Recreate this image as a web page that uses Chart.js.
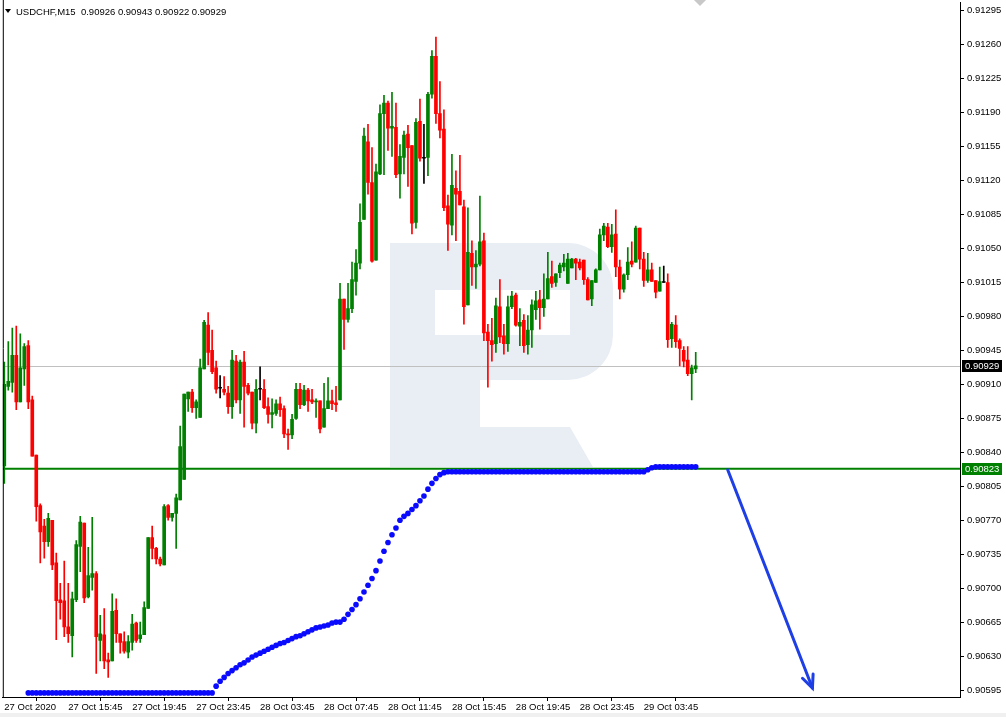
<!DOCTYPE html>
<html><head><meta charset="utf-8">
<script src="https://cdn.jsdelivr.net/npm/chart.js@4/dist/chart.umd.min.js"></script>
<style>html,body{margin:0;padding:0;background:#fff;overflow:hidden}canvas{display:block}</style>
</head><body>
<canvas id="c" width="1006" height="717"></canvas>
<script>
// ---------------- DATA ----------------
const symbol = 'USDCHF,M15';
const open = [.90826,.90908,.90912,.90940,.90892,.90926,.90950,.90894,.90837,.90785,
.90764,.90748,.90770,.90726,.90688,.90687,.90660,.90651,.90688,.90743,
.90767,.90691,.90711,.90715,.90646,.90652,.90626,.90625,.90677,.90653,
.90645,.90634,.90644,.90664,.90648,.90652,.90679,.90752,.90741,.90730,
.90724,.90785,.90773,.90777,.90791,.90812,.90895,.90902,.90886,.90876,
.90926,.90971,.90945,.90927,.90906,.90905,.90901,.90887,.90934,.90894,
.90933,.90909,.90902,.90870,.90905,.90905,.90887,.90879,.90880,.90890,
.90885,.90859,.90858,.90875,.90905,.90889,.90904,.90894,.90892,.90893,
.90866,.90885,.90893,.90891,.90894,.90998,.90977,.90988,.91016,.91035,
.91080,.91160,.91118,.91038,.91127,.91189,.91200,.91174,.91175,.91127,
.91144,.91168,.91156,.91077,.91181,.91143,.91144,.91209,.91248,.91189,
.91173,.91094,.91074,.91112,.91109,.91093,.90992,.91045,.91031,.91034,
.91058,.90964,.90955,.90952,.90990,.90960,.90952,.90990,.91002,.90970,
.90976,.90951,.90966,.90987,.90997,.90989,.90998,.91021,.91015,.91025,
.91031,.91014,.91030,.91039,.91036,.91038,.91018,.90998,.91015,.91028,
.91064,.91072,.91052,.91065,.91031,.91008,.91023,.91037,.91036,.91071,
.91039,.91017,.91028,.91017,.91006,.91015,.91015,.90957,.90971,.90955,
.90945,.90935,.90921,.90926];
const high = [.90933,.90954,.90968,.90970,.90962,.90952,.90955,.90898,.90837,.90787,
.90771,.90777,.90770,.90736,.90705,.90728,.90705,.90696,.90749,.90774,
.90767,.90742,.90773,.90717,.90672,.90679,.90633,.90694,.90689,.90653,
.90655,.90651,.90673,.90665,.90665,.90686,.90752,.90764,.90742,.90732,
.90786,.90786,.90777,.90797,.90867,.90900,.90902,.90905,.90894,.90936,
.90976,.90984,.90966,.90934,.90919,.90918,.90908,.90945,.90940,.90935,
.90944,.90911,.90902,.90915,.90928,.90915,.90896,.90895,.90894,.90897,
.90888,.90864,.90879,.90911,.90911,.90909,.90906,.90905,.90895,.90893,
.90911,.90917,.90904,.90908,.91014,.90998,.91014,.91036,.91049,.91096,
.91174,.91178,.91154,.91137,.91198,.91208,.91202,.91211,.91200,.91157,
.91171,.91177,.91156,.91184,.91204,.91178,.91211,.91254,.91268,.91222,
.91193,.91105,.91147,.91130,.91146,.91100,.91092,.91058,.91048,.91104,
.91066,.90972,.90978,.90999,.91018,.90972,.91001,.91006,.91004,.90988,
.90982,.90981,.90997,.91006,.91007,.91024,.91046,.91037,.91024,.91035,
.91044,.91045,.91040,.91040,.91039,.91038,.91020,.91017,.91029,.91070,
.91076,.91076,.91075,.91090,.91038,.91024,.91051,.91057,.91073,.91071,
.91046,.91045,.91035,.91017,.91031,.91032,.91024,.90974,.90981,.90957,
.90949,.90949,.90930,.90943];
const low = [.90808,.90904,.90902,.90884,.90892,.90909,.90885,.90836,.90769,.90726,
.90731,.90743,.90719,.90647,.90668,.90650,.90644,.90629,.90686,.90717,
.90685,.90690,.90698,.90612,.90625,.90617,.90608,.90625,.90644,.90633,
.90633,.90628,.90636,.90644,.90644,.90652,.90679,.90730,.90725,.90723,
.90724,.90770,.90769,.90741,.90791,.90812,.90882,.90881,.90875,.90876,
.90926,.90930,.90921,.90901,.90896,.90899,.90880,.90875,.90891,.90880,
.90866,.90899,.90864,.90860,.90894,.90885,.90870,.90865,.90878,.90877,
.90855,.90843,.90854,.90874,.90885,.90888,.90882,.90890,.90876,.90860,
.90866,.90885,.90884,.90882,.90894,.90946,.90974,.90984,.91002,.91029,
.91080,.91106,.91036,.91038,.91126,.91126,.91151,.91145,.91123,.91102,
.91127,.91114,.91065,.91071,.91140,.91117,.91125,.91205,.91179,.91164,
.91089,.91048,.91064,.91058,.91095,.90972,.90992,.91012,.91009,.91032,
.90955,.90907,.90934,.90943,.90953,.90941,.90944,.90988,.90970,.90950,
.90943,.90941,.90948,.90977,.90967,.90980,.90998,.91010,.91011,.91020,
.91027,.91014,.91030,.91018,.91028,.91013,.90997,.90991,.91015,.91028,
.91058,.91051,.91046,.91021,.90998,.91005,.91018,.91031,.91036,.91029,
.91011,.91015,.91016,.90999,.91006,.91015,.90948,.90948,.90948,.90929,
.90928,.90919,.90894,.90922];
const close = [.90910,.90913,.90940,.90892,.90927,.90949,.90892,.90836,.90784,.90758,
.90748,.90772,.90724,.90687,.90685,.90660,.90653,.90689,.90745,.90768,
.90690,.90713,.90715,.90650,.90653,.90625,.90624,.90676,.90653,.90644,
.90635,.90645,.90663,.90646,.90652,.90680,.90752,.90741,.90730,.90725,
.90784,.90773,.90777,.90793,.90846,.90900,.90902,.90886,.90892,.90927,
.90974,.90943,.90923,.90905,.90906,.90902,.90887,.90935,.90894,.90933,
.90908,.90901,.90870,.90905,.90905,.90886,.90879,.90881,.90890,.90884,
.90859,.90858,.90874,.90905,.90889,.90904,.90893,.90892,.90893,.90864,
.90885,.90893,.90890,.90889,.90998,.90977,.90988,.91018,.91035,.91077,
.91166,.91118,.91037,.91129,.91189,.91200,.91174,.91176,.91126,.91145,
.91167,.91154,.91076,.91180,.91143,.91143,.91209,.91248,.91189,.91172,
.91092,.91075,.91115,.91106,.91095,.90990,.91046,.91031,.91034,.91057,
.90963,.90955,.90951,.90991,.90959,.90952,.90990,.91001,.90971,.90974,
.90950,.90966,.90992,.90996,.90989,.90998,.91019,.91014,.91024,.91033,
.91035,.91039,.91039,.91035,.91030,.91018,.90997,.91017,.91028,.91064,
.91073,.91052,.91064,.91031,.91008,.91023,.91036,.91034,.91071,.91039,
.91017,.91028,.91016,.91005,.91016,.91015,.90956,.90972,.90954,.90947,
.90934,.90921,.90927,.90929];
// trailing indicator (blue dots), one value per bar, null = not drawn
const indicator = [null,null,null,null,null,null,
.90592,.90592,.90592,.90592,.90592,.90592,.90592,.90592,.90592,.90592,
.90592,.90592,.90592,.90592,.90592,.90592,.90592,.90592,.90592,.90592,
.90592,.90592,.90592,.90592,.90592,.90592,.90592,.90592,.90592,.90592,
.90592,.90592,.90592,.90592,.90592,.90592,.90592,.90592,.90592,.90592,
.90592,.90592,.90592,.90592,.90592,.90592,.90592,
.90599,.90604,.90608,.90612,.90615,.90618,.90621,.90623,.90626,.90629,
.90631,.90633,.90635,.90637,.90639,.90641,.90643,.90644,.90646,.90648,
.90650,.90651,.90653,.90655,.90657,.90659,.90660,.90661,.90662,.90664,
.90665,.90665,.90668,.90673,.90678,.90683,.90689,.90696,.90703,.90710,
.90718,.90728,.90738,.90747,.90755,.90762,.90770,.90774,.90777,.90781,
.90785,.90790,.90795,.90802,.90808,.90813,.90817,.90819,
.90820,.90820,.90820,.90820,.90820,.90820,.90820,.90820,.90820,.90820,
.90820,.90820,.90820,.90820,.90820,.90820,.90820,.90820,.90820,.90820,
.90820,.90820,.90820,.90820,.90820,.90820,.90820,.90820,.90820,.90820,
.90820,.90820,.90820,.90820,.90820,.90820,.90820,.90820,.90820,.90820,
.90820,.90820,.90820,.90820,.90820,.90820,.90820,.90820,.90820,.90820,
.90822,.90824,
.90825,.90825,.90825,.90825,.90825,.90825,.90825,.90825,.90825,.90825,.90825];
const timeTickIndex = [0,16,32,48,64,80,96,112,128,144,160];
const timeLabels = ['27 Oct 2020','27 Oct 15:45','27 Oct 19:45','27 Oct 23:45','28 Oct 03:45',
  '28 Oct 07:45','28 Oct 11:45','28 Oct 15:45','28 Oct 19:45','28 Oct 23:45','29 Oct 03:45'];
const priceTicks = [0.91295,0.91260,0.91225,0.91190,0.91155,0.91120,0.91085,0.91050,0.91015,0.90980,
  0.90945,0.90910,0.90875,0.90840,0.90805,0.90770,0.90735,0.90700,0.90665,0.90630,0.90595];
const bidPrice = 0.90929;
const levelPrice = 0.90823;
const arrowFrom = {x: 181, y: 0.90822};
const arrowTo = {x: 202.2, y: 0.90597};

// ---------------- STYLE ----------------
const BULL = '#008000', BEAR = '#ff0000', DOJI = '#000000';
const FONT = {family: "'Liberation Sans', Arial, sans-serif", size: 9.5};
const xMin = -0.375, xMax = 239.125;
const yMin = 0.905878, yMax = 0.9130324;

const n = open.length;
const colors = open.map((o, i) => close[i] > o ? BULL : (close[i] < o ? BEAR : DOJI));
const bodyData = open.map((o, i) => ({x: i, y: [o, close[i]]}));
const wickData = open.map((o, i) => ({x: i, y: [low[i], high[i]]}));
const dotData = indicator.map((v, i) => v == null ? null : {x: i, y: v}).filter(Boolean);

const overlay = {
  id: 'overlay',
  beforeDatasetsDraw(chart) {
    const {ctx, chartArea: a, scales: {x, y}} = chart;
    ctx.save();
    ctx.beginPath(); ctx.rect(a.left, a.top, a.right - a.left, a.bottom - a.top); ctx.clip();
    // watermark "R"
    const L = 390, T = 243;
    ctx.fillStyle = '#e9eef5';
    ctx.beginPath();
    ctx.moveTo(L, T); ctx.lineTo(568, T);
    ctx.arcTo(613, T, 613, T + 45, 45);
    ctx.lineTo(613, 335);
    ctx.arcTo(613, 380, 568, 380, 45);
    ctx.lineTo(480, 380); ctx.lineTo(480, 467); ctx.lineTo(L, 467); ctx.closePath();
    ctx.fill();
    ctx.beginPath();
    ctx.moveTo(480, 427); ctx.lineTo(570, 427); ctx.lineTo(593, 467); ctx.lineTo(480, 467); ctx.closePath();
    ctx.fill();
    ctx.fillStyle = '#ffffff';
    ctx.fillRect(435, 290, 135, 45);
    // bid line
    const by = Math.round(y.getPixelForValue(bidPrice)) + 0.5;
    ctx.strokeStyle = '#c0c0c0'; ctx.lineWidth = 1;
    ctx.beginPath(); ctx.moveTo(a.left, by); ctx.lineTo(a.right, by); ctx.stroke();
    // level line
    const ly = y.getPixelForValue(levelPrice);
    ctx.strokeStyle = '#008000'; ctx.lineWidth = 2;
    ctx.beginPath(); ctx.moveTo(a.left, ly); ctx.lineTo(a.right, ly); ctx.stroke();
    ctx.restore();
  },
  afterDatasetsDraw(chart) {
    const {ctx, chartArea: a, scales: {x, y}} = chart;
    ctx.save();
    // arrow
    const x1 = x.getPixelForValue(arrowFrom.x), y1 = y.getPixelForValue(arrowFrom.y);
    const x2 = x.getPixelForValue(arrowTo.x), y2 = y.getPixelForValue(arrowTo.y);
    ctx.strokeStyle = '#1e3ee6'; ctx.lineWidth = 3; ctx.lineCap = 'round';
    ctx.beginPath(); ctx.moveTo(x1, y1); ctx.lineTo(x2, y2); ctx.stroke();
    const ang = Math.atan2(y2 - y1, x2 - x1), hl = 14, sp = 0.42;
    ctx.beginPath();
    ctx.moveTo(x2 - hl * Math.cos(ang - sp), y2 - hl * Math.sin(ang - sp));
    ctx.lineTo(x2, y2);
    ctx.lineTo(x2 - hl * Math.cos(ang + sp), y2 - hl * Math.sin(ang + sp));
    ctx.stroke();
    // left border
    ctx.strokeStyle = '#000'; ctx.lineWidth = 1;
    ctx.beginPath(); ctx.moveTo(a.left + 0.5, 0); ctx.lineTo(a.left + 0.5, a.bottom); ctx.stroke();
    // price boxes
    ctx.font = "9.5px 'Liberation Sans', Arial, sans-serif";
    ctx.textBaseline = 'middle'; ctx.textAlign = 'left';
    const box = (p, bg) => {
      const py = Math.round(y.getPixelForValue(p));
      ctx.fillStyle = bg; ctx.fillRect(a.right + 2, py - 6, 40, 12);
      ctx.fillStyle = '#fff'; ctx.fillText(p.toFixed(5), a.right + 5, py + 0.5);
    };
    box(bidPrice, '#000000');
    box(levelPrice, '#008000');
    // header
    ctx.fillStyle = '#000';
    ctx.beginPath(); ctx.moveTo(5, 9); ctx.lineTo(11, 9); ctx.lineTo(8, 13); ctx.closePath(); ctx.fill();
    ctx.textBaseline = 'alphabetic';
    const last = n - 1;
    ctx.fillText(symbol + '  ' + [open[last], high[last], low[last], close[last]].map(v => v.toFixed(5)).join(' '), 16, 15);
    // chart shift marker
    ctx.fillStyle = '#c8c8c8';
    ctx.beginPath(); ctx.moveTo(694, 0); ctx.lineTo(706, 0); ctx.lineTo(700, 6); ctx.closePath(); ctx.fill();
    // window bottom band
    ctx.fillStyle = '#f0f0f0'; ctx.fillRect(0, 713, 1006, 4);
    ctx.restore();
  }
};

new Chart(document.getElementById('c').getContext('2d'), {
  type: 'bar',
  data: {datasets: [
    {type: 'line', data: dotData, showLine: false, pointRadius: 2.8, pointBackgroundColor: '#0a0aff',
     pointBorderWidth: 0, pointHoverRadius: 0, order: 0},
    {data: bodyData, backgroundColor: colors, barThickness: 3, minBarLength: 1, grouped: false, borderWidth: 0, order: 1},
    {data: wickData, backgroundColor: colors, barThickness: 1, grouped: false, borderWidth: 0, order: 2}
  ]},
  options: {
    responsive: false, animation: false, devicePixelRatio: 1, events: [],
    layout: {padding: {left: 2, top: 2, right: 0, bottom: 0}},
    plugins: {legend: {display: false}, tooltip: {enabled: false}},
    scales: {
      x: {
        type: 'linear', min: xMin, max: xMax, offset: false,
        grid: {display: true, drawOnChartArea: false, drawTicks: true, tickLength: 4, color: '#000'},
        border: {display: true, color: '#000', width: 1},
        ticks: {autoSkip: false, maxRotation: 0, minRotation: 0, align: 'start', padding: 1, color: '#000', font: FONT,
          callback: (v, i) => timeLabels[i]},
        afterBuildTicks: s => { s.ticks = timeTickIndex.map(v => ({value: v})); },
        afterFit: s => { s.height = 20; s.paddingLeft = 0; s.paddingRight = 0; s.paddingTop = 0; s.paddingBottom = 0; }
      },
      y: {
        type: 'linear', position: 'right', min: yMin, max: yMax,
        grid: {display: true, drawOnChartArea: false, drawTicks: true, tickLength: 4, color: '#000'},
        border: {display: true, color: '#000', width: 1},
        ticks: {autoSkip: false, padding: 3, color: '#000', font: FONT, callback: v => Number(v).toFixed(5)},
        afterBuildTicks: s => { s.ticks = priceTicks.map(v => ({value: v})); },
        afterFit: s => { s.width = 46; s.paddingTop = 0; s.paddingBottom = 0; s.paddingLeft = 0; s.paddingRight = 0; }
      }
    }
  },
  plugins: [overlay]
});
</script>
</body></html>
